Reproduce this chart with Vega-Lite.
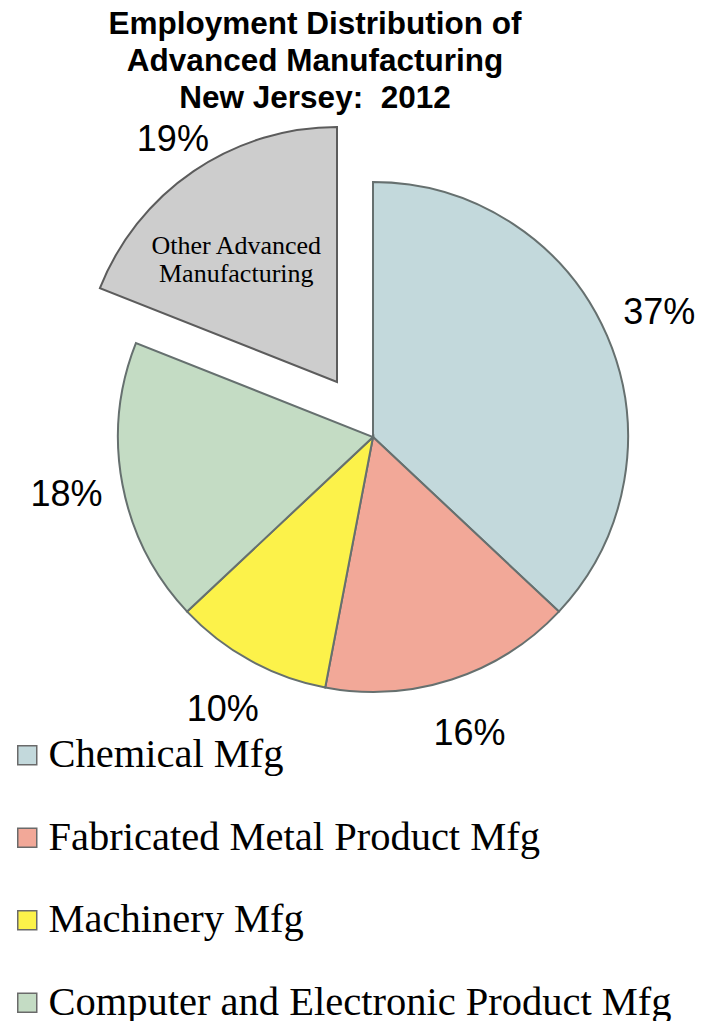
{
  "$schema": "https://vega.github.io/schema/vega-lite/v6.json",
  "width": 680,
  "height": 654,
  "autosize": "none",
  "padding": {"top": 110, "left": 33, "right": 0, "bottom": 257},
  "background": "white",
  "view": {"stroke": null},
  "title": {
    "text": ["Employment Distribution of", "Advanced Manufacturing", "New Jersey:\u00a0 2012"],
    "font": "Liberation Sans",
    "fontSize": 31.5,
    "fontWeight": "bold",
    "lineHeight": 37,
    "color": "black",
    "dx": -58,
    "dy": 6,
    "offset": 2
  },
  "data": {
    "values": [
      {"category": "Chemical Mfg", "share": 0.37, "order": 1},
      {"category": "Fabricated Metal Product Mfg", "share": 0.16, "order": 2},
      {"category": "Machinery Mfg", "share": 0.10, "order": 3},
      {"category": "Computer and Electronic Product Mfg", "share": 0.18, "order": 4},
      {"category": "Other Advanced Manufacturing", "share": 0.19, "order": 5}
    ]
  },
  "layer": [
    {
      "mark": {"type": "arc", "radius": 255, "stroke": "#66706f", "strokeWidth": 2},
      "encoding": {
        "theta": {"field": "share", "type": "quantitative", "stack": true},
        "order": {"field": "order", "type": "quantitative"},
        "color": {
          "field": "category",
          "type": "nominal",
          "scale": {
            "domain": ["Chemical Mfg", "Fabricated Metal Product Mfg", "Machinery Mfg", "Computer and Electronic Product Mfg", "Other Advanced Manufacturing"],
            "range": ["#c3d9dc", "#f2a898", "#fcf24a", "#c4dcc4", "#cdcdcd"]
          },
          "legend": {
            "orient": "none",
            "legendX": -26,
            "legendY": 625,
            "direction": "vertical",
            "title": null,
            "padding": 0,
            "values": ["Chemical Mfg", "Fabricated Metal Product Mfg", "Machinery Mfg", "Computer and Electronic Product Mfg"],
            "symbolType": "square",
            "symbolSize": 361,
            "symbolStrokeColor": "#6a6a6a",
            "symbolStrokeWidth": 1.5,
            "symbolOpacity": 1,
            "labelFont": "Liberation Serif",
            "labelFontSize": 40.5,
            "labelColor": "black",
            "labelLimit": 700,
            "labelOffset": 1,
            "rowPadding": 41.5
          }
        },
        "opacity": {"condition": {"test": "datum.category === 'Other Advanced Manufacturing'", "value": 0}, "value": 1}
      }
    },
    {
      "mark": {"type": "arc", "radius": 255, "stroke": "#5c5c5c", "strokeWidth": 2, "x": {"expr": "width/2 - 36"}, "y": {"expr": "height/2 - 55"}},
      "encoding": {
        "theta": {"field": "share", "type": "quantitative", "stack": true},
        "order": {"field": "order", "type": "quantitative"},
        "color": {"field": "category", "type": "nominal", "legend": null},
        "opacity": {"condition": {"test": "datum.category === 'Other Advanced Manufacturing'", "value": 1}, "value": 0}
      }
    },
    {
      "mark": {"type": "text", "radius": 312, "font": "Liberation Sans", "fontSize": 36, "fill": "black", "align": "center", "baseline": "middle"},
      "encoding": {
        "theta": {"field": "share", "type": "quantitative", "stack": true},
        "order": {"field": "order", "type": "quantitative"},
        "detail": {"field": "category", "type": "nominal"},
        "text": {"field": "share", "type": "quantitative", "format": ".0%"},
        "opacity": {"condition": {"test": "datum.category === 'Other Advanced Manufacturing'", "value": 0}, "value": 1}
      }
    },
    {
      "mark": {"type": "text", "radius": 292, "font": "Liberation Sans", "fontSize": 36, "fill": "black", "align": "center", "baseline": "middle", "x": {"expr": "width/2 - 36"}, "y": {"expr": "height/2 - 55"}},
      "encoding": {
        "theta": {"field": "share", "type": "quantitative", "stack": true},
        "order": {"field": "order", "type": "quantitative"},
        "detail": {"field": "category", "type": "nominal"},
        "text": {"field": "share", "type": "quantitative", "format": ".0%"},
        "opacity": {"condition": {"test": "datum.category === 'Other Advanced Manufacturing'", "value": 1}, "value": 0}
      }
    },
    {
      "mark": {"type": "text", "radius": 165, "font": "Liberation Serif", "fontSize": 26, "lineHeight": 28, "fill": "black", "align": "center", "baseline": "middle", "dx": -8, "text": ["Other Advanced", "Manufacturing"], "x": {"expr": "width/2 - 36"}, "y": {"expr": "height/2 - 55"}},
      "encoding": {
        "theta": {"field": "share", "type": "quantitative", "stack": true},
        "order": {"field": "order", "type": "quantitative"},
        "detail": {"field": "category", "type": "nominal"},
        "opacity": {"condition": {"test": "datum.category === 'Other Advanced Manufacturing'", "value": 1}, "value": 0}
      }
    }
  ]
}
